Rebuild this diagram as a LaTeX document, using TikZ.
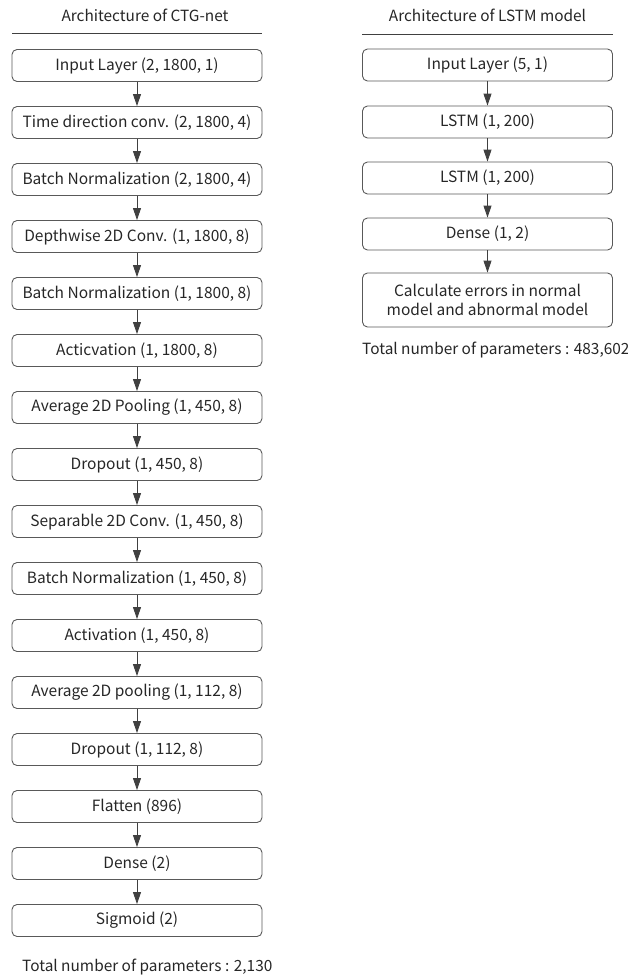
\documentclass[tikz,border=0pt]{standalone}
\usepackage{fontspec}
\setmainfont{Noto Sans CJK KR}
\usepackage{tikz}
\usetikzlibrary{positioning,arrows.meta}
\tikzset{
  % --- layer boxes -----------------------------------------------------------
  layer/.style={rectangle,draw=black!65,rounded corners=5pt,line width=0.9pt,
                minimum width=250pt,minimum height=32pt,inner sep=2pt,
                font=\fontsize{15.5}{19.5}\selectfont,text=black!85},
  tall/.style={layer,minimum height=54pt,align=center},
  % --- headings and footers --------------------------------------------------
  heading/.style={font=\fontsize{15.4}{18}\selectfont,text=black!85},
  footer/.style={anchor=west,inner sep=0pt,font=\fontsize{15.4}{18}\selectfont,
                 text=black!85},
  rulebar/.style={black!75,line width=1pt},
  % --- flow arrows -----------------------------------------------------------
  flow/.style={-{Triangle[length=12pt,width=8pt]},black!75,line width=0.9pt},
}

\begin{document}
\begin{tikzpicture}[x=1pt,y=-1pt]
  \useasboundingbox (0,0) rectangle (628,980);

  % ---- CTG-net, top to bottom ----
  \node[heading] (hctg) at (145,15) {Architecture of CTG-net};
  \coordinate (rl1) at (12,33);
  \coordinate (rl2) at (262,33);
  \draw[rulebar] (rl1) -- (rl2);

  \node[layer] (c1)  at (137,65.5)  {Input Layer (2, 1800, 1)};
  \node[layer] (c2)  at (137,122.5) {Time direction conv. (2, 1800, 4)};
  \node[layer] (c3)  at (137,179.5) {Batch Normalization (2, 1800, 4)};
  \node[layer] (c4)  at (137,236.5) {Depthwise 2D Conv. (1, 1800, 8)};
  \node[layer] (c5)  at (137,293.5) {Batch Normalization (1, 1800, 8)};
  \node[layer] (c6)  at (137,350.5) {Acticvation (1, 1800, 8)};
  \node[layer] (c7)  at (137,407.5) {Average 2D Pooling (1, 450, 8)};
  \node[layer] (c8)  at (137,464.5) {Dropout (1, 450, 8)};
  \node[layer] (c9)  at (137,521.5) {Separable 2D Conv. (1, 450, 8)};
  \node[layer] (c10) at (137,578.5) {Batch Normalization (1, 450, 8)};
  \node[layer] (c11) at (137,635.5) {Activation (1, 450, 8)};
  \node[layer] (c12) at (137,692.5) {Average 2D pooling (1, 112, 8)};
  \node[layer] (c13) at (137,749.5) {Dropout (1, 112, 8)};
  \node[layer] (c14) at (137,806.5) {Flatten (896)};
  \node[layer] (c15) at (137,863.5) {Dense (2)};
  \node[layer] (c16) at (137,920.5) {Sigmoid (2)};

  \node[footer] (tctg) at (22,967) {Total number of parameters : 2,130};

  \draw[flow] (c1)  -- (c2);
  \draw[flow] (c2)  -- (c3);
  \draw[flow] (c3)  -- (c4);
  \draw[flow] (c4)  -- (c5);
  \draw[flow] (c5)  -- (c6);
  \draw[flow] (c6)  -- (c7);
  \draw[flow] (c7)  -- (c8);
  \draw[flow] (c8)  -- (c9);
  \draw[flow] (c9)  -- (c10);
  \draw[flow] (c10) -- (c11);
  \draw[flow] (c11) -- (c12);
  \draw[flow] (c12) -- (c13);
  \draw[flow] (c13) -- (c14);
  \draw[flow] (c14) -- (c15);
  \draw[flow] (c15) -- (c16);

  % ---- LSTM model ----
  \node[heading] (hlstm) at (487.5,15) {Architecture of LSTM model};
  \coordinate (rr1) at (362,34);
  \coordinate (rr2) at (613,34);
  \draw[rulebar] (rr1) -- (rr2);

  \node[layer] (l1) at (487.5,65)  {Input Layer (5, 1)};
  \node[layer] (l2) at (487.5,122) {LSTM (1, 200)};
  \node[layer] (l3) at (487.5,178) {LSTM (1, 200)};
  \node[layer] (l4) at (487.5,234) {Dense (1, 2)};
  \node[tall]  (l5) at (487.5,300) {Calculate errors in normal\\model and abnormal model};

  \node[footer] (tlstm) at (362,350) {Total number of parameters : 483,602};

  \draw[flow] (l1) -- (l2);
  \draw[flow] (l2) -- (l3);
  \draw[flow] (l3) -- (l4);
  \draw[flow] (l4) -- (l5);
\end{tikzpicture}
\end{document}
